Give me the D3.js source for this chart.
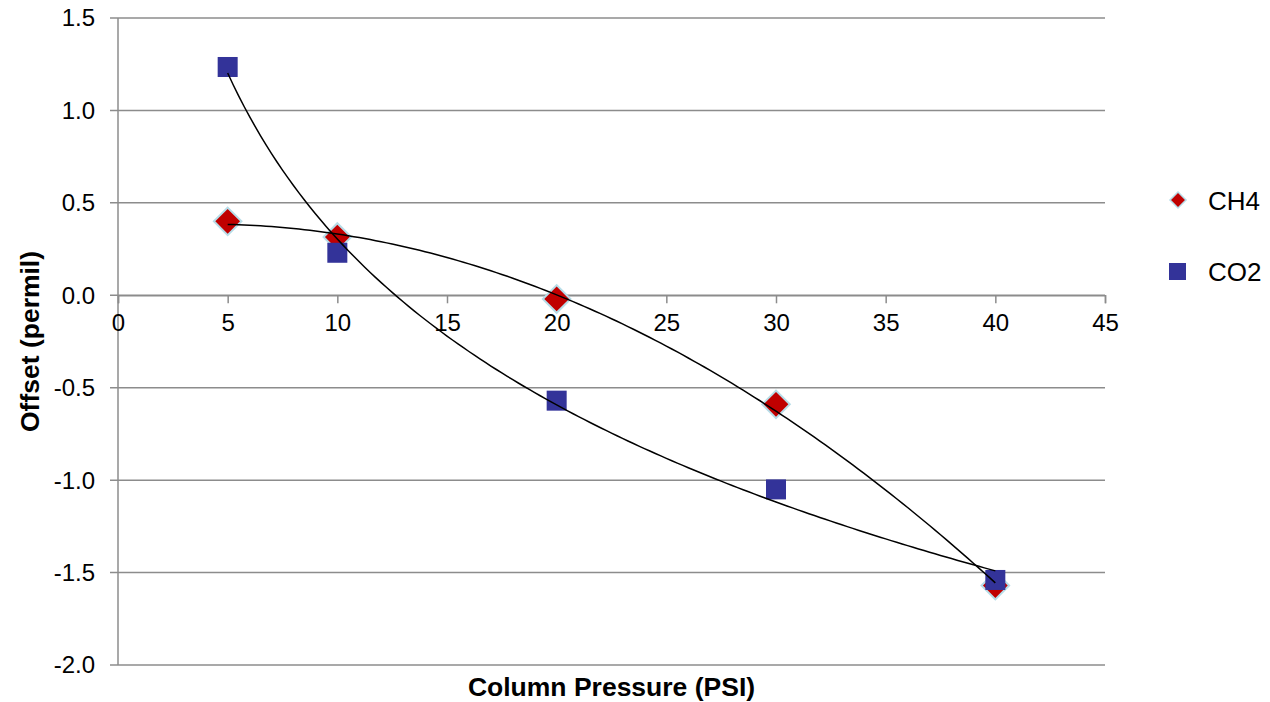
<!DOCTYPE html>
<html lang="en">
<head>
    <meta charset="UTF-8">
    <title>Offset vs Column Pressure</title>
    <style>
        body { margin: 0; background: #fff; }
        text { font-family: "Liberation Sans", Arial, sans-serif; }
    </style>
    <script src="https://d3js.org/d3.v7.min.js"></script>
</head>
<body>
    <script>
        const pressure = [5, 10, 20, 30, 40]
        const ch4 = [0.40, 0.315, -0.02, -0.59, -1.57]
        const co2 = [1.235, 0.23, -0.57, -1.05, -1.54]
        const xTicks = [0, 5, 10, 15, 20, 25, 30, 35, 40, 45]
        const yTicks = [-2.0, -1.5, -1.0, -0.5, 0.0, 0.5, 1.0, 1.5]

        const width = 1270
        const height = 702
        const margin = { top: 18, left: 118, bottom: 37, right: 165 }
        const fs = 24

        const svg = d3.select('body').append('svg').attr('width', width).attr('height', height)

        const x = d3.scaleLinear().domain([0, 45]).range([margin.left, width - margin.right])
        const y = d3.scaleLinear().domain([-2, 1.5]).range([height - margin.bottom, margin.top])

        // hyphen instead of unicode minus, like the original
        const fmtY = d => d3.format('.1f')(d).replace('\u2212', '-')

        // horizontal gridlines, extended a bit past the y axis as tick marks
        svg.append('g').selectAll('line').data(yTicks).enter().append('line')
            .attr('x1', margin.left - 8).attr('x2', width - margin.right)
            .attr('y1', d => y(d)).attr('y2', d => y(d))
            .attr('stroke', '#8c8c8c').attr('stroke-width', 1.5)

        svg.append('line')
            .attr('x1', margin.left).attr('x2', margin.left)
            .attr('y1', margin.top).attr('y2', height - margin.bottom)
            .attr('stroke', '#8c8c8c').attr('stroke-width', 1.5)

        svg.append('g').selectAll('text').data(yTicks).enter().append('text')
            .attr('x', margin.left - 23).attr('y', d => y(d)).attr('dy', '0.35em')
            .attr('text-anchor', 'end').attr('font-size', fs)
            .text(fmtY)

        // x axis sits on y = 0
        const xAxis = d3.axisBottom(x).tickValues(xTicks).tickSize(8).tickPadding(11)
        const gx = svg.append('g').attr('transform', `translate(0, ${y(0)})`).call(xAxis)
        gx.select('.domain').attr('stroke', '#8c8c8c').attr('stroke-width', 1.5)
        gx.selectAll('.tick line').attr('stroke', '#8c8c8c').attr('stroke-width', 1.5)
        gx.selectAll('.tick text').attr('font-size', fs).attr('fill', '#000')
            .attr('font-family', '"Liberation Sans", Arial, sans-serif')

        // least squares quadratic trendline (CH4)
        function quadFit(xs, ys) {
            let s = [0, 0, 0, 0, 0], t = [0, 0, 0]
            xs.forEach((xv, i) => {
                for (let k = 0; k < 5; k++) s[k] += Math.pow(xv, k)
                for (let k = 0; k < 3; k++) t[k] += ys[i] * Math.pow(xv, k)
            })
            const m = [[s[0], s[1], s[2], t[0]], [s[1], s[2], s[3], t[1]], [s[2], s[3], s[4], t[2]]]
            for (let i = 0; i < 3; i++) {
                for (let j = i + 1; j < 3; j++) {
                    const f = m[j][i] / m[i][i]
                    for (let k = i; k < 4; k++) m[j][k] -= f * m[i][k]
                }
            }
            const c = [0, 0, 0]
            for (let i = 2; i >= 0; i--) {
                let v = m[i][3]
                for (let k = i + 1; k < 3; k++) v -= m[i][k] * c[k]
                c[i] = v / m[i][i]
            }
            return xv => c[0] + c[1] * xv + c[2] * xv * xv
        }

        // least squares logarithmic trendline (CO2)
        function logFit(xs, ys) {
            const ls = xs.map(Math.log)
            const ml = d3.mean(ls), my = d3.mean(ys)
            const a = d3.sum(ls, (l, i) => (l - ml) * (ys[i] - my)) / d3.sum(ls, l => (l - ml) ** 2)
            const b = my - a * ml
            return xv => a * Math.log(xv) + b
        }

        const line = d3.line().x(d => x(d[0])).y(d => y(d[1]))
        const xsDense = d3.range(5, 40.01, 0.25)

        const pts = s => pressure.map((p, i) => [p, s[i]])

        // CH4 diamonds
        svg.append('g').selectAll('path').data(pts(ch4)).enter().append('path')
            .attr('d', d3.symbol().type(d3.symbolSquare).size(380))
            .attr('transform', d => `translate(${x(d[0])}, ${y(d[1])}) rotate(45)`)
            .attr('fill', '#c00000').attr('stroke', '#b7dde8').attr('stroke-width', 2)

        // CO2 squares
        svg.append('g').selectAll('rect').data(pts(co2)).enter().append('rect')
            .attr('x', d => x(d[0]) - 10).attr('y', d => y(d[1]) - 10)
            .attr('width', 20).attr('height', 20)
            .attr('fill', '#333399')

        const fits = [quadFit(pressure, ch4), logFit(pressure, co2)]
        fits.forEach(f => {
            svg.append('path')
                .attr('d', line(xsDense.map(v => [v, f(v)])))
                .attr('fill', 'none').attr('stroke', '#000').attr('stroke-width', 1.5)
        })

        // legend
        const lg = svg.append('g')
        lg.append('path')
            .attr('d', d3.symbol().type(d3.symbolSquare).size(128))
            .attr('transform', 'translate(1178, 200) rotate(45)')
            .attr('fill', '#c00000').attr('stroke', '#b7dde8').attr('stroke-width', 1.5)
        lg.append('rect').attr('x', 1169).attr('y', 263).attr('width', 17).attr('height', 17)
            .attr('fill', '#333399')
        lg.append('text').attr('x', 1208).attr('y', 201).attr('dy', '0.35em')
            .attr('font-size', 26).text('CH4')
        lg.append('text').attr('x', 1208).attr('y', 272).attr('dy', '0.35em')
            .attr('font-size', 26).text('CO2')

        // axis titles
        svg.append('text')
            .attr('x', (margin.left + width - margin.right) / 2).attr('y', 687).attr('dy', '0.35em')
            .attr('text-anchor', 'middle').attr('font-size', 26.5).attr('font-weight', 'bold')
            .text('Column Pressure (PSI)')
        svg.append('text')
            .attr('transform', `translate(30, ${(margin.top + height - margin.bottom) / 2}) rotate(-90)`)
            .attr('dy', '0.35em')
            .attr('text-anchor', 'middle').attr('font-size', 26.5).attr('font-weight', 'bold')
            .text('Offset (permil)')
    </script>
</body>
</html>
